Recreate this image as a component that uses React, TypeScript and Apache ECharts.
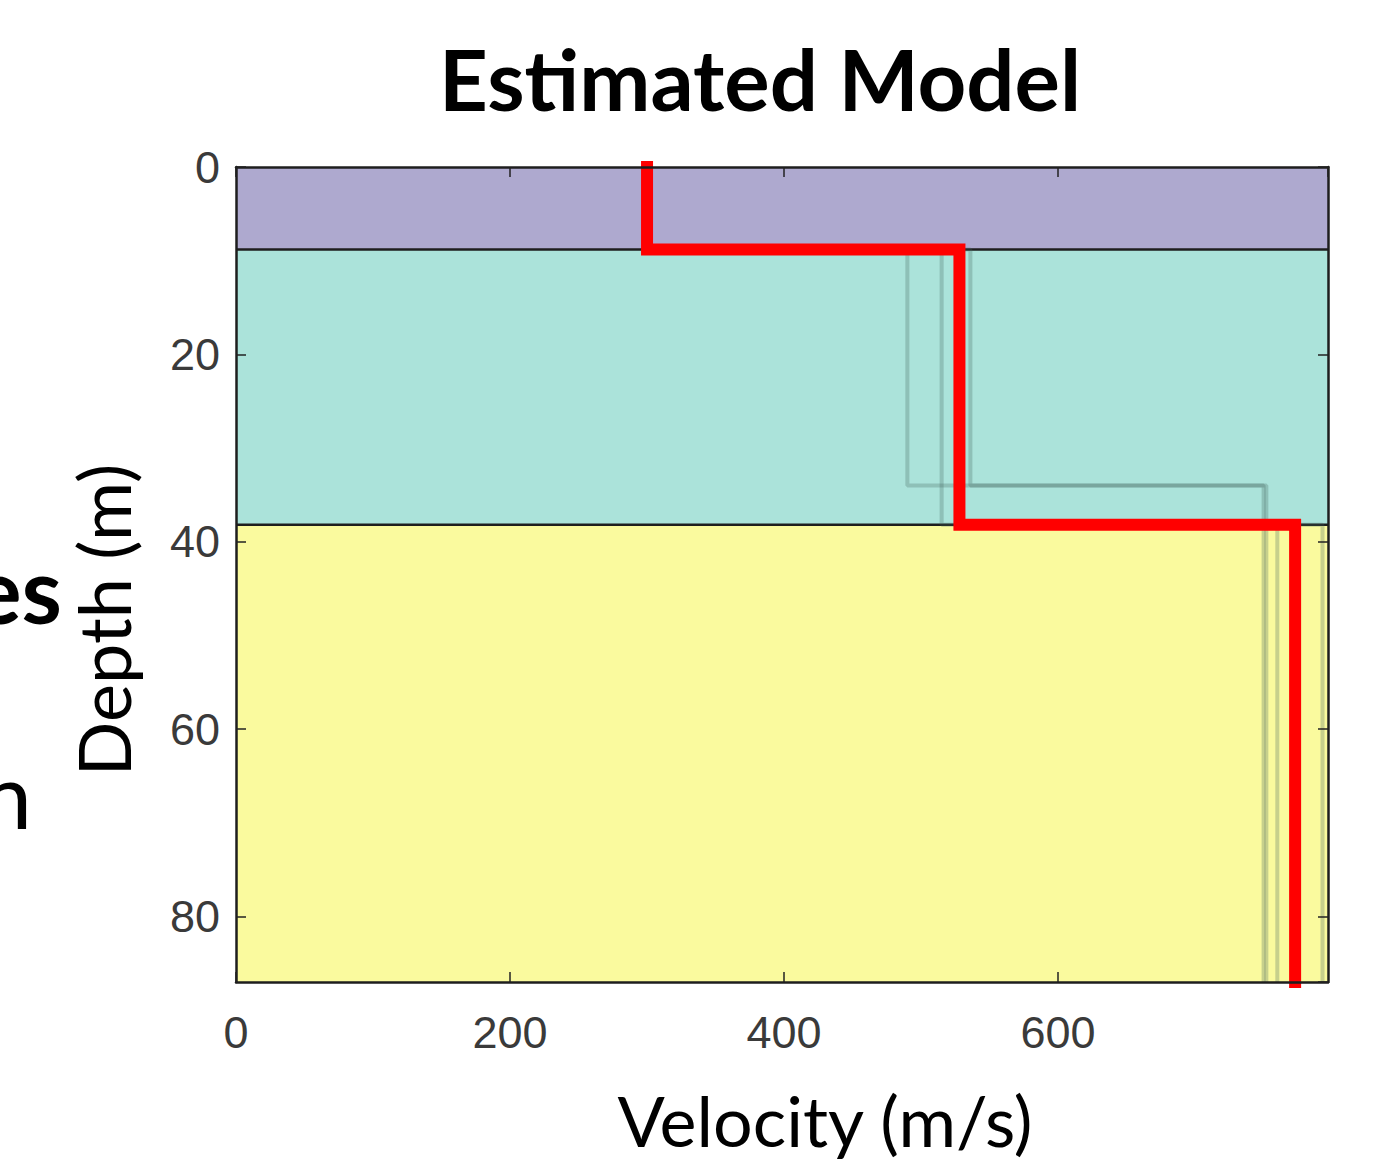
import React, { useEffect, useRef } from "react";
import * as echarts from "echarts";

// Axis extents and ticks
const X_MAX = 797;
const Y_MAX = 87;
const X_INTERVAL = 200;
const Y_INTERVAL = 20;

// Layers (depth ranges)
const layerTops = [0, 8.8, 38.2];
const layerBottoms = [8.8, 38.2, 87];
const layerColors = ["#aea9cf", "#abe3da", "#fafa9e"];

// Estimated model (red)
const estVelocities = [300, 528, 773];
const estInterfaces = [8.8, 38.2];

// Alternative models (grey)
const altVelocities = [
  [300, 490, 750],
  [300, 536, 752],
  [300, 515, 760],
  [300, 526, 793],
];
const altInterfaces = [
  [8.8, 34],
  [8.8, 34],
  [8.8, 38.2],
  [8.8, 38.2],
];

function stepPath(v: number[], d: number[], maxDepth: number): number[][] {
  const pts: number[][] = [];
  let top = 0;
  for (let i = 0; i < v.length; i++) {
    const bottom = i < d.length ? d[i] : maxDepth;
    pts.push([v[i], top]);
    pts.push([v[i], bottom]);
    top = bottom;
  }
  return pts;
}

export default function App() {
  const ref = useRef<HTMLDivElement>(null);
  useEffect(() => {
    if (!ref.current) return;
    const chart = echarts.init(ref.current, null, { renderer: "svg" });
    const layerData = layerTops.map((t, i) => [t, layerBottoms[i], i]);
    const tickStyle = { inside: true, length: 10, lineStyle: { color: "#222", width: 1.5 } };
    const axisLineStyle = { show: true, onZero: false, lineStyle: { color: "#1e1e1e", width: 2.5 } };
    const labelStyle = { color: "#3a3a3a", fontSize: 45, fontFamily: "Liberation Sans, Arial, sans-serif" };
    const option: any = {
      animation: false,
      backgroundColor: "#ffffff",
      grid: { left: 236, top: 167, right: 46, bottom: 179, containLabel: false },
      xAxis: [
        {
          type: "value", min: 0, max: X_MAX, interval: X_INTERVAL, position: "bottom", z: 10,
          axisLine: axisLineStyle, axisTick: tickStyle, splitLine: { show: false },
          axisLabel: { ...labelStyle, margin: 28, showMaxLabel: false },
        },
        {
          type: "value", min: 0, max: X_MAX, interval: X_INTERVAL, position: "top", z: 10,
          axisLine: axisLineStyle, axisTick: tickStyle, splitLine: { show: false },
          axisLabel: { show: false },
        },
      ],
      yAxis: [
        {
          type: "value", min: 0, max: Y_MAX, interval: Y_INTERVAL, inverse: true, position: "left", z: 10,
          axisLine: axisLineStyle, axisTick: tickStyle, splitLine: { show: false },
          axisLabel: { ...labelStyle, margin: 16, showMaxLabel: false },
        },
        {
          type: "value", min: 0, max: Y_MAX, interval: Y_INTERVAL, inverse: true, position: "right", z: 10,
          axisLine: axisLineStyle, axisTick: tickStyle, splitLine: { show: false },
          axisLabel: { show: false },
        },
      ],
      series: [
        {
          type: "custom",
          z: 1,
          data: layerData,
          renderItem: (params: any, api: any) => {
            const top = api.value(0);
            const bottom = api.value(1);
            const idx = api.value(2);
            const p1 = api.coord([0, top]);
            const p2 = api.coord([X_MAX, bottom]);
            const children: any[] = [
              {
                type: "rect",
                shape: { x: p1[0], y: p1[1], width: p2[0] - p1[0], height: p2[1] - p1[1] },
                style: { fill: layerColors[idx] },
              },
            ];
            if (idx < layerTops.length - 1) {
              children.push({
                type: "line",
                z2: 5,
                shape: { x1: p1[0], y1: p2[1], x2: p2[0], y2: p2[1] },
                style: { stroke: "#1e1e1e", lineWidth: 2.5 },
              });
            }
            return { type: "group", children };
          },
        },
        ...altVelocities.map((v, i) => ({
          type: "line",
          z: 3,
          data: stepPath(v, altInterfaces[i], Y_MAX),
          symbol: "none",
          silent: true,
          lineStyle: { color: "rgba(70,100,95,0.28)", width: 4 },
        })),
        {
          type: "line",
          z: 5,
          clip: false,
          data: stepPath(estVelocities, estInterfaces, Y_MAX),
          symbol: "none",
          lineStyle: { color: "#ff0000", width: 12, cap: "square", join: "miter" },
        },
      ],
      graphic: [
        {
          type: "text",
          style: {
            x: 760, y: 78, text: "Estimated Model", align: "center", verticalAlign: "middle",
            font: "bold 85px Lato, sans-serif", fill: "#000",
          },
        },
        {
          type: "text",
          style: {
            x: 825, y: 1120, text: "Velocity (m/s)", align: "center", verticalAlign: "middle",
            font: "70px Lato, sans-serif", fill: "#000",
          },
        },
        {
          type: "text",
          x: 103, y: 620, rotation: Math.PI / 2,
          style: {
            x: 0, y: 0, text: "Depth (m)", align: "center", verticalAlign: "middle",
            font: "72px Lato, sans-serif", fill: "#000",
          },
        },
        {
          type: "text",
          style: {
            x: 62, y: 588, text: "es", align: "right", verticalAlign: "middle",
            font: "bold 92px Lato, sans-serif", fill: "#000",
          },
        },
        {
          type: "text",
          style: {
            x: 32, y: 793, text: "n", align: "right", verticalAlign: "middle",
            font: "92px Lato, sans-serif", fill: "#000",
          },
        },
      ],
    };
    chart.setOption(option);
    return () => chart.dispose();
  }, []);
  return (
    <div
      ref={ref}
      style={{ position: "fixed", left: 0, top: 0, width: 1374, height: 1161, background: "#fff" }}
    />
  );
}
